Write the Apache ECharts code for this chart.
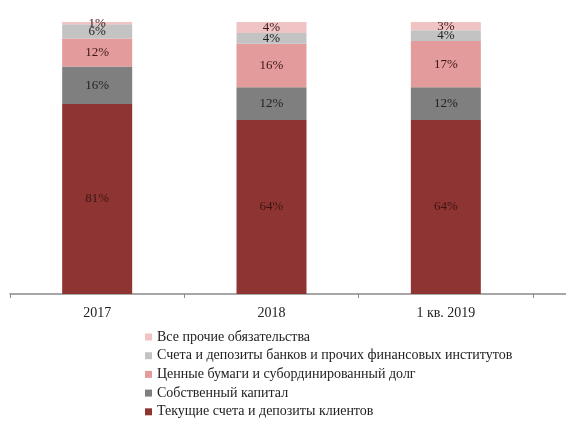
<!DOCTYPE html>
<html>
<head>
<meta charset="utf-8">
<script src="https://cdn.jsdelivr.net/npm/echarts@6/dist/echarts.min.js"></script>
<style>
html,body{margin:0;padding:0;background:#fff;}
#chart{width:566px;height:421px;}
</style>
</head>
<body>
<div id="chart"></div>
<script>
const categories = ['2017', '2018', '1 кв. 2019'];
const seriesNames = [
  'Текущие счета и депозиты клиентов',
  'Собственный капитал',
  'Ценные бумаги и субординированный долг',
  'Счета и депозиты банков и прочих финансовых институтов',
  'Все прочие обязательства'
];
const clientAccounts = [81, 64, 64];
const equity = [16, 12, 12];
const securities = [12, 16, 17];
const bankDeposits = [6, 4, 4];
const otherLiabilities = [1, 4, 3];
const colors = ['#8e3432', '#7f7f7f', '#e49b9c', '#c3c3c3', '#f0c3c5'];
const labelColors = ['#3d1614', '#222222', '#3d1614', '#222222', '#3d1614'];

const allValues = [clientAccounts, equity, securities, bankDeposits, otherLiabilities];
const totals = categories.map((c, i) => allValues.reduce((s, arr) => s + arr[i], 0));

const W = 566, H = 421;
const gridLeft = 10, gridRight = 33, gridTop = 22, gridBottom = 127;

const chart = echarts.init(document.getElementById('chart'));
const series = allValues.map((vals, k) => ({
  name: seriesNames[k],
  type: 'bar',
  stack: 'total',
  barWidth: 70,
  itemStyle: { color: colors[k] },
  data: vals.map((v, i) => ({ value: v / totals[i] * 100, raw: v })),
  label: {
    show: true,
    position: 'inside',
    formatter: p => p.data.raw + '%',
    fontFamily: 'Liberation Serif',
    fontSize: 13,
    color: labelColors[k]
  }
}));

chart.setOption({
  animation: false,
  grid: { left: gridLeft, right: gridRight, top: gridTop, bottom: gridBottom },
  xAxis: {
    type: 'category',
    data: categories,
    axisLine: { show: true, lineStyle: { color: '#8a8a8a', width: 1.5 } },
    axisTick: { show: true, length: 4, lineStyle: { color: '#8a8a8a' } },
    axisLabel: { fontFamily: 'Liberation Serif', fontSize: 14, color: '#222', margin: 12 }
  },
  yAxis: {
    type: 'value', min: 0, max: 100, show: false,
    splitLine: { show: false }
  },
  graphic: [{
    type: 'line',
    shape: { x1: W - gridRight, y1: H - gridBottom, x2: W, y2: H - gridBottom },
    style: { stroke: '#8a8a8a', lineWidth: 1.5 }
  }],
  legend: {
    orient: 'vertical',
    left: 145,
    top: 330,
    padding: 0,
    itemWidth: 7,
    itemHeight: 7,
    itemGap: 4.7,
    icon: 'rect',
    data: seriesNames.slice().reverse(),
    textStyle: { fontFamily: 'Liberation Serif', fontSize: 14, color: '#222', lineHeight: 14 }
  },
  series: series
});
</script>
</body>
</html>
